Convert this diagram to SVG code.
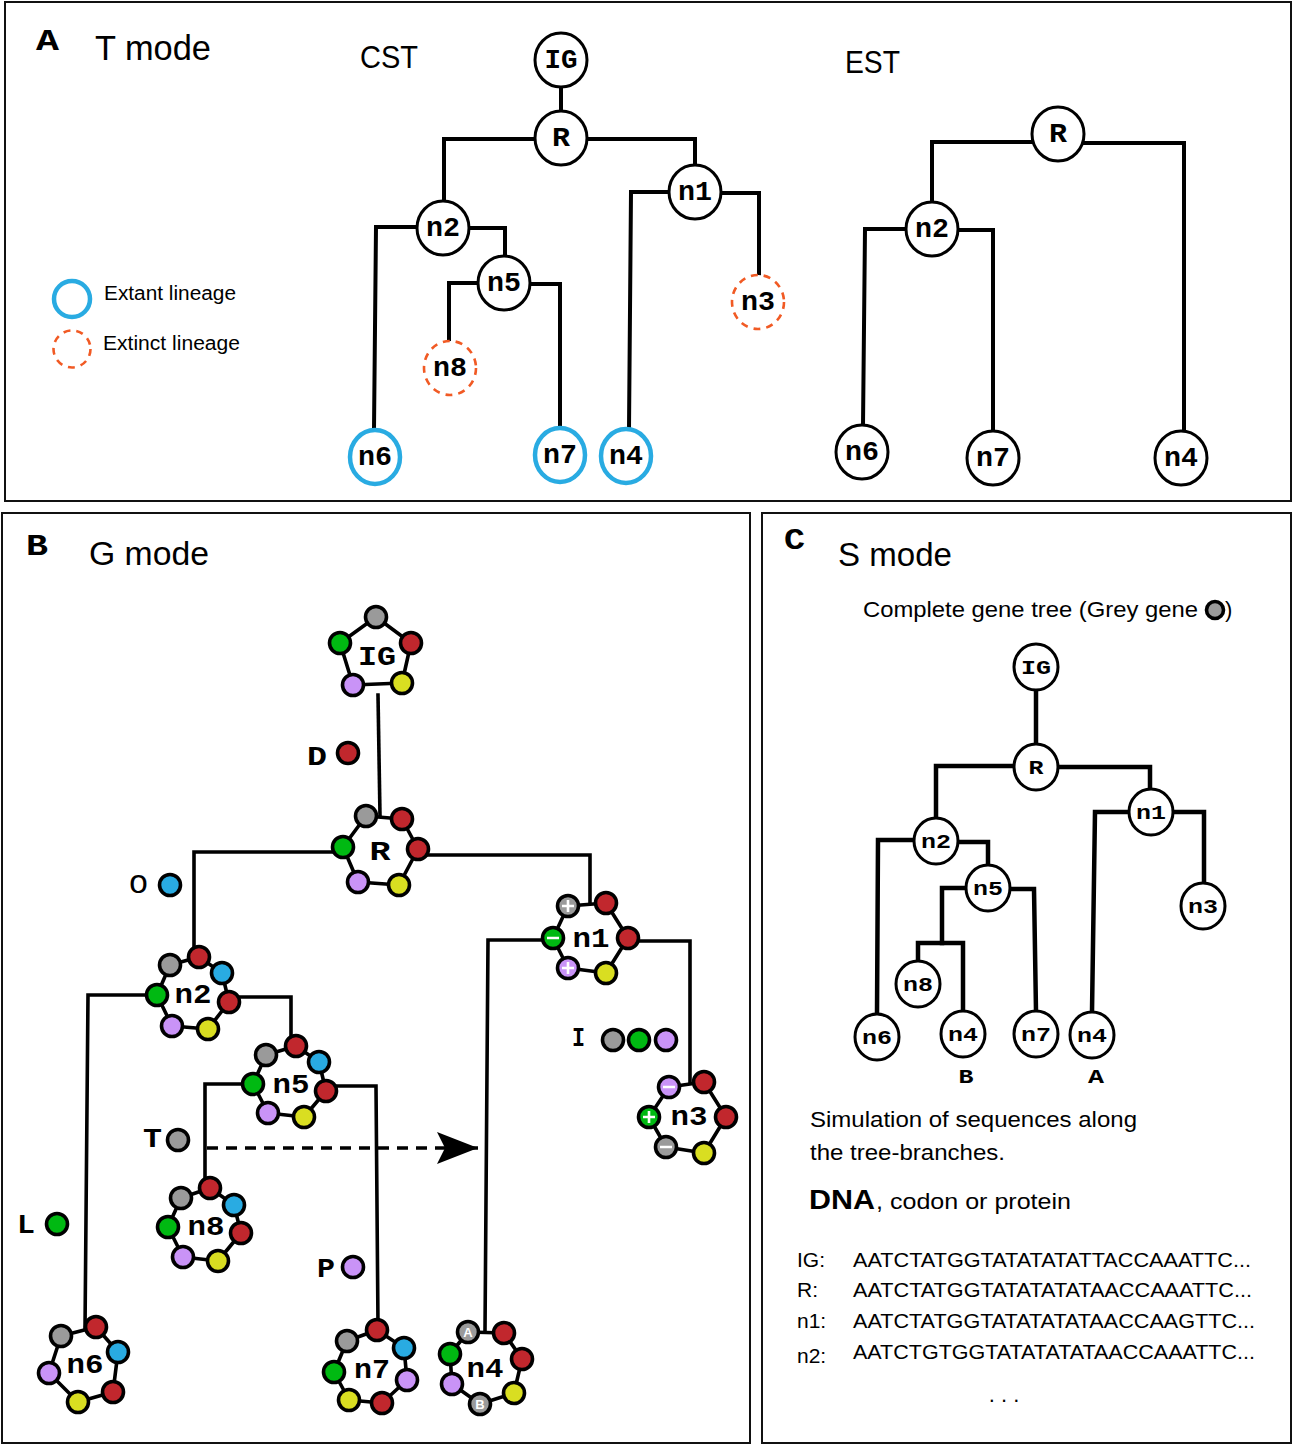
<svg xmlns="http://www.w3.org/2000/svg" width="1294" height="1446" viewBox="0 0 1294 1446">
<defs>
<style>
.frame{fill:none;stroke:#111;stroke-width:2}
.edge{fill:none;stroke:#000;stroke-width:4;stroke-linejoin:miter;stroke-linecap:square}
.edgeB{fill:none;stroke:#000;stroke-width:3.6;stroke-linejoin:miter;stroke-linecap:square}
.edgeC{fill:none;stroke:#000;stroke-width:4.5;stroke-linejoin:miter;stroke-linecap:square}
.dash{fill:none;stroke:#000;stroke-width:3.6;stroke-dasharray:11 8}
.tn{fill:#fff;stroke:#000;stroke-width:3}
.ext{fill:#fff;stroke:#29ABE2;stroke-width:4.5}
.exn{fill:#fff;stroke:#F15A24;stroke-width:2.6;stroke-dasharray:7 6}
.mono{font-family:"Liberation Mono","DejaVu Sans Mono",monospace;font-weight:bold;fill:#000}
.monoN{font-family:"Liberation Mono","DejaVu Sans Mono",monospace;fill:#000}
.sans{font-family:"Liberation Sans",Arial,sans-serif;fill:#000}
.ring{fill:#fff;stroke:#000;stroke-width:3.6;stroke-linejoin:round}
.dot{stroke:#000;stroke-width:3.6}
.g{fill:#9A9A9A}.r{fill:#C1272D}.gr{fill:#00B912}.b{fill:#29ABE2}.p{fill:#C993F7}.y{fill:#D9DE21}
.sign{fill:none;stroke:#fff;stroke-width:2.6}
.A{font-size:27px}.Bl{font-size:28px}.Cl{font-size:21px}
</style>
<marker id="stealth" markerUnits="userSpaceOnUse" markerWidth="44" markerHeight="34" refX="41" refY="16" orient="auto">
<path d="M0,0 L41,16 L0,32 L8,16 Z" fill="#000"/>
</marker>
</defs>
<rect width="1294" height="1446" fill="#fff"/>

<!-- Panel frames -->
<g id="frames">
<rect class="frame" x="5" y="2" width="1286" height="499"/>
<rect class="frame" x="2" y="513" width="748" height="930"/>
<rect class="frame" x="762" y="513" width="529" height="930"/>
</g>

<!-- ===== Panel A ===== -->
<g id="panelA-titles">
<text class="mono" x="36" y="50" font-size="30" textLength="23" lengthAdjust="spacingAndGlyphs">A</text>
<text class="sans" x="95" y="60" font-size="35" textLength="116" lengthAdjust="spacingAndGlyphs">T mode</text>
<text class="sans" x="360" y="68" font-size="31" textLength="58" lengthAdjust="spacingAndGlyphs">CST</text>
<text class="sans" x="845" y="73" font-size="31" textLength="55" lengthAdjust="spacingAndGlyphs">EST</text>
</g>
<g id="legendA">
<circle cx="72" cy="299" r="18" fill="#fff" stroke="#29ABE2" stroke-width="4.5"/>
<text class="sans" x="104" y="300" font-size="20" textLength="132" lengthAdjust="spacingAndGlyphs">Extant lineage</text>
<circle cx="72" cy="349" r="18.5" class="exn"/>
<text class="sans" x="103" y="350" font-size="20" textLength="137" lengthAdjust="spacingAndGlyphs">Extinct lineage</text>
</g>
<g id="connectorsA">
<path class="edge" d="M561 87 V112"/>
<path class="edge" d="M535 139 H444 V201"/>
<path class="edge" d="M587 139 H695 V165"/>
<path class="edge" d="M417 227 H376 L374 430"/>
<path class="edge" d="M469 228 H505 V256"/>
<path class="edge" d="M478 283 H449 V342"/>
<path class="edge" d="M530 284 H560 V428"/>
<path class="edge" d="M669 192 H631 L629 429"/>
<path class="edge" d="M721 193 H759 V275"/>
<path class="edge" d="M1032 142 H932 V202"/>
<path class="edge" d="M1084 143 H1184 V431"/>
<path class="edge" d="M906 229 H865 L863 425"/>
<path class="edge" d="M958 230 H993 V431"/>
</g>
<g id="A-IG"><ellipse class="tn" cx="561" cy="60" rx="26" ry="27"/><text class="mono A" x="561" y="68" text-anchor="middle" textLength="33" lengthAdjust="spacingAndGlyphs">IG</text></g>
<g id="A-R"><ellipse class="tn" cx="561" cy="138" rx="26" ry="27"/><text class="mono A" x="561" y="146" text-anchor="middle" textLength="18" lengthAdjust="spacingAndGlyphs">R</text></g>
<g id="A-n2"><ellipse class="tn" cx="443" cy="228" rx="26" ry="27"/><text class="mono A" x="443" y="236" text-anchor="middle" textLength="34" lengthAdjust="spacingAndGlyphs">n2</text></g>
<g id="A-n5"><ellipse class="tn" cx="504" cy="283" rx="26" ry="27"/><text class="mono A" x="504" y="291" text-anchor="middle" textLength="34" lengthAdjust="spacingAndGlyphs">n5</text></g>
<g id="A-n1"><ellipse class="tn" cx="695" cy="192" rx="26" ry="27"/><text class="mono A" x="695" y="200" text-anchor="middle" textLength="34" lengthAdjust="spacingAndGlyphs">n1</text></g>
<g id="A-n3"><ellipse class="exn" cx="758" cy="302" rx="26" ry="27"/><text class="mono A" x="758" y="310" text-anchor="middle" textLength="34" lengthAdjust="spacingAndGlyphs">n3</text></g>
<g id="A-n8"><ellipse class="exn" cx="450" cy="368" rx="26" ry="27"/><text class="mono A" x="450" y="376" text-anchor="middle" textLength="34" lengthAdjust="spacingAndGlyphs">n8</text></g>
<g id="A-n6"><ellipse class="ext" cx="375" cy="457" rx="25" ry="27"/><text class="mono A" x="375" y="465" text-anchor="middle" textLength="34" lengthAdjust="spacingAndGlyphs">n6</text></g>
<g id="A-n7"><ellipse class="ext" cx="560" cy="455" rx="25" ry="27"/><text class="mono A" x="560" y="463" text-anchor="middle" textLength="34" lengthAdjust="spacingAndGlyphs">n7</text></g>
<g id="A-n4"><ellipse class="ext" cx="626" cy="456" rx="25" ry="27"/><text class="mono A" x="626" y="464" text-anchor="middle" textLength="34" lengthAdjust="spacingAndGlyphs">n4</text></g>
<g id="EST-R"><ellipse class="tn" cx="1058" cy="134" rx="26" ry="27"/><text class="mono A" x="1058" y="142" text-anchor="middle" textLength="18" lengthAdjust="spacingAndGlyphs">R</text></g>
<g id="EST-n2"><ellipse class="tn" cx="932" cy="229" rx="26" ry="27"/><text class="mono A" x="932" y="237" text-anchor="middle" textLength="34" lengthAdjust="spacingAndGlyphs">n2</text></g>
<g id="EST-n6"><ellipse class="tn" cx="862" cy="452" rx="26" ry="27"/><text class="mono A" x="862" y="460" text-anchor="middle" textLength="34" lengthAdjust="spacingAndGlyphs">n6</text></g>
<g id="EST-n7"><ellipse class="tn" cx="993" cy="458" rx="26" ry="27"/><text class="mono A" x="993" y="466" text-anchor="middle" textLength="34" lengthAdjust="spacingAndGlyphs">n7</text></g>
<g id="EST-n4"><ellipse class="tn" cx="1181" cy="458" rx="26" ry="27"/><text class="mono A" x="1181" y="466" text-anchor="middle" textLength="34" lengthAdjust="spacingAndGlyphs">n4</text></g>

<!-- ===== Panel B ===== -->
<g id="panelB-titles">
<text class="mono" x="26" y="555" font-size="30" textLength="22" lengthAdjust="spacingAndGlyphs">B</text>
<text class="sans" x="89" y="565" font-size="33" textLength="120" lengthAdjust="spacingAndGlyphs">G mode</text>
</g>
<g id="connectorsB">
<path class="edgeB" d="M378 695 L380 816"/>
<path class="edgeB" d="M343 852 H194 V950"/>
<path class="edgeB" d="M418 855 H590 V904"/>
<path class="edgeB" d="M628 941 H690 V1084"/>
<path class="edgeB" d="M553 940 H488 L485 1332"/>
<path class="edgeB" d="M157 995 H88 L85 1330"/>
<path class="edgeB" d="M229 997 H291 V1042"/>
<path class="edgeB" d="M253 1084 H205 V1184"/>
<path class="edgeB" d="M326 1086 H376 L378 1326"/>
<path class="dash" d="M207 1148 H478" marker-end="url(#stealth)"/>
</g>
<g id="events">
<g id="ev-D"><text class="mono" x="307" y="765" font-size="28" textLength="20" lengthAdjust="spacingAndGlyphs">D</text><circle class="dot r" cx="348" cy="753" r="10.5"/></g>
<g id="ev-O"><text class="monoN" x="129" y="893" font-size="28" textLength="19" lengthAdjust="spacingAndGlyphs">O</text><circle class="dot b" cx="170" cy="885" r="10.5"/></g>
<g id="ev-I"><text class="mono" x="572" y="1046" font-size="28" textLength="13" lengthAdjust="spacingAndGlyphs">I</text><circle class="dot g" cx="613" cy="1040" r="10.5"/><circle class="dot gr" cx="639" cy="1040" r="10.5"/><circle class="dot p" cx="666" cy="1040" r="10.5"/></g>
<g id="ev-T"><text class="mono" x="143" y="1147" font-size="28" textLength="19" lengthAdjust="spacingAndGlyphs">T</text><circle class="dot g" cx="178" cy="1140" r="10.5"/></g>
<g id="ev-L"><text class="mono" x="17" y="1233" font-size="28" textLength="18" lengthAdjust="spacingAndGlyphs">L</text><circle class="dot gr" cx="57" cy="1224" r="10.5"/></g>
<g id="ev-P"><text class="mono" x="317" y="1277" font-size="28" textLength="18" lengthAdjust="spacingAndGlyphs">P</text><circle class="dot p" cx="353" cy="1267" r="10.5"/></g>
</g>

<g id="B-IG">
<polygon class="ring" points="376,617 411,643 402,683 353,685 340,643"/>
<circle class="dot g" cx="376" cy="617" r="10.5"/><circle class="dot r" cx="411" cy="643" r="10.5"/><circle class="dot y" cx="402" cy="683" r="10.5"/><circle class="dot p" cx="353" cy="685" r="10.5"/><circle class="dot gr" cx="340" cy="643" r="10.5"/>
<text class="mono Bl" x="377" y="665" text-anchor="middle" textLength="38" lengthAdjust="spacingAndGlyphs">IG</text>
</g>
<g id="B-R">
<polygon class="ring" points="366,816 402,819 418,849 399,885 358,882 343,847"/>
<circle class="dot g" cx="366" cy="816" r="10.5"/><circle class="dot r" cx="402" cy="819" r="10.5"/><circle class="dot r" cx="418" cy="849" r="10.5"/><circle class="dot y" cx="399" cy="885" r="10.5"/><circle class="dot p" cx="358" cy="882" r="10.5"/><circle class="dot gr" cx="343" cy="847" r="10.5"/>
<text class="mono Bl" x="380" y="860" text-anchor="middle" textLength="21" lengthAdjust="spacingAndGlyphs">R</text>
</g>
<g id="B-n1">
<polygon class="ring" points="568,906 606,903 628,938 606,973 568,968 553,938"/>
<circle class="dot g" cx="568" cy="906" r="10.5"/><circle class="dot r" cx="606" cy="903" r="10.5"/><circle class="dot r" cx="628" cy="938" r="10.5"/><circle class="dot y" cx="606" cy="973" r="10.5"/><circle class="dot p" cx="568" cy="968" r="10.5"/><circle class="dot gr" cx="553" cy="938" r="10.5"/>
<path class="sign" d="M562 906 H574 M568 900 V912 M562 968 H574 M568 962 V974 M547 938 H559"/>
<text class="mono Bl" x="591" y="947" text-anchor="middle" textLength="37" lengthAdjust="spacingAndGlyphs">n1</text>
</g>
<g id="B-n2">
<polygon class="ring" points="170,965 199,957 222,973 229,1002 208,1029 172,1026 157,995"/>
<circle class="dot g" cx="170" cy="965" r="10.5"/><circle class="dot r" cx="199" cy="957" r="10.5"/><circle class="dot b" cx="222" cy="973" r="10.5"/><circle class="dot r" cx="229" cy="1002" r="10.5"/><circle class="dot y" cx="208" cy="1029" r="10.5"/><circle class="dot p" cx="172" cy="1026" r="10.5"/><circle class="dot gr" cx="157" cy="995" r="10.5"/>
<text class="mono Bl" x="193" y="1003" text-anchor="middle" textLength="37" lengthAdjust="spacingAndGlyphs">n2</text>
</g>
<g id="B-n5">
<polygon class="ring" points="266,1055 296,1046 319,1062 326,1091 304,1117 268,1113 253,1084"/>
<circle class="dot g" cx="266" cy="1055" r="10.5"/><circle class="dot r" cx="296" cy="1046" r="10.5"/><circle class="dot b" cx="319" cy="1062" r="10.5"/><circle class="dot r" cx="326" cy="1091" r="10.5"/><circle class="dot y" cx="304" cy="1117" r="10.5"/><circle class="dot p" cx="268" cy="1113" r="10.5"/><circle class="dot gr" cx="253" cy="1084" r="10.5"/>
<text class="mono Bl" x="291" y="1093" text-anchor="middle" textLength="37" lengthAdjust="spacingAndGlyphs">n5</text>
</g>
<g id="B-n8">
<polygon class="ring" points="181,1198 210,1188 234,1205 241,1233 218,1261 183,1257 168,1227"/>
<circle class="dot g" cx="181" cy="1198" r="10.5"/><circle class="dot r" cx="210" cy="1188" r="10.5"/><circle class="dot b" cx="234" cy="1205" r="10.5"/><circle class="dot r" cx="241" cy="1233" r="10.5"/><circle class="dot y" cx="218" cy="1261" r="10.5"/><circle class="dot p" cx="183" cy="1257" r="10.5"/><circle class="dot gr" cx="168" cy="1227" r="10.5"/>
<text class="mono Bl" x="206" y="1235" text-anchor="middle" textLength="37" lengthAdjust="spacingAndGlyphs">n8</text>
</g>
<g id="B-n3">
<polygon class="ring" points="669,1087 704,1082 726,1117 704,1153 666,1147 649,1117"/>
<circle class="dot p" cx="669" cy="1087" r="10.5"/><circle class="dot r" cx="704" cy="1082" r="10.5"/><circle class="dot r" cx="726" cy="1117" r="10.5"/><circle class="dot y" cx="704" cy="1153" r="10.5"/><circle class="dot g" cx="666" cy="1147" r="10.5"/><circle class="dot gr" cx="649" cy="1117" r="10.5"/>
<path class="sign" d="M663 1087 H675 M660 1147 H672 M643 1117 H655 M649 1111 V1123"/>
<text class="mono Bl" x="689" y="1125" text-anchor="middle" textLength="37" lengthAdjust="spacingAndGlyphs">n3</text>
</g>
<g id="B-n4">
<polygon class="ring" points="468,1332 504,1333 522,1359 514,1393 480,1404 452,1384 450,1354"/>
<circle class="dot g" cx="468" cy="1332" r="10.5"/><circle class="dot r" cx="504" cy="1333" r="10.5"/><circle class="dot r" cx="522" cy="1359" r="10.5"/><circle class="dot y" cx="514" cy="1393" r="10.5"/><circle class="dot g" cx="480" cy="1404" r="10.5"/><circle class="dot p" cx="452" cy="1384" r="10.5"/><circle class="dot gr" cx="450" cy="1354" r="10.5"/>
<text x="468" y="1337" text-anchor="middle" font-family="Liberation Sans,Arial,sans-serif" font-weight="bold" font-size="13" fill="#fff">A</text>
<text x="480" y="1409" text-anchor="middle" font-family="Liberation Sans,Arial,sans-serif" font-weight="bold" font-size="13" fill="#fff">B</text>
<text class="mono Bl" x="485" y="1377" text-anchor="middle" textLength="37" lengthAdjust="spacingAndGlyphs">n4</text>
</g>
<g id="B-n6">
<polygon class="ring" points="61,1336 96,1327 118,1352 113,1392 78,1402 49,1373"/>
<circle class="dot g" cx="61" cy="1336" r="10.5"/><circle class="dot r" cx="96" cy="1327" r="10.5"/><circle class="dot b" cx="118" cy="1352" r="10.5"/><circle class="dot r" cx="113" cy="1392" r="10.5"/><circle class="dot y" cx="78" cy="1402" r="10.5"/><circle class="dot p" cx="49" cy="1373" r="10.5"/>
<text class="mono Bl" x="85" y="1373" text-anchor="middle" textLength="37" lengthAdjust="spacingAndGlyphs">n6</text>
</g>
<g id="B-n7">
<polygon class="ring" points="347,1341 377,1330 404,1348 407,1380 382,1403 349,1400 334,1372"/>
<circle class="dot g" cx="347" cy="1341" r="10.5"/><circle class="dot r" cx="377" cy="1330" r="10.5"/><circle class="dot b" cx="404" cy="1348" r="10.5"/><circle class="dot p" cx="407" cy="1380" r="10.5"/><circle class="dot r" cx="382" cy="1403" r="10.5"/><circle class="dot y" cx="349" cy="1400" r="10.5"/><circle class="dot gr" cx="334" cy="1372" r="10.5"/>
<text class="mono Bl" x="372" y="1378" text-anchor="middle" textLength="36" lengthAdjust="spacingAndGlyphs">n7</text>
</g>

<!-- ===== Panel C ===== -->
<g id="panelC-titles">
<text class="mono" x="784" y="549" font-size="30" textLength="21" lengthAdjust="spacingAndGlyphs">C</text>
<text class="sans" x="838" y="566" font-size="33" textLength="114" lengthAdjust="spacingAndGlyphs">S mode</text>
<text class="sans" x="863" y="617" font-size="22" textLength="335" lengthAdjust="spacingAndGlyphs">Complete gene tree (Grey gene</text>
<circle class="dot g" cx="1215" cy="610" r="8.5"/>
<text class="sans" x="1225" y="617" font-size="22">)</text>
</g>
<g id="connectorsC">
<path class="edgeC" d="M1036 690 V744"/>
<path class="edgeC" d="M1014 766 H936 V818"/>
<path class="edgeC" d="M1058 767 H1150 V790"/>
<path class="edgeC" d="M914 840 H878 L877 1014"/>
<path class="edgeC" d="M958 842 H988 V866"/>
<path class="edgeC" d="M966 888 H942 V943"/>
<path class="edgeC" d="M918 962 V943 H963 V1011"/>
<path class="edgeC" d="M1010 889 H1034 L1036 1011"/>
<path class="edgeC" d="M1129 812 H1095 L1092 1012"/>
<path class="edgeC" d="M1173 812 H1204 V884"/>
</g>
<g id="C-IG"><ellipse class="tn" cx="1036" cy="667" rx="22" ry="23"/><text class="mono Cl" x="1036" y="674" text-anchor="middle" textLength="30" lengthAdjust="spacingAndGlyphs">IG</text></g>
<g id="C-R"><ellipse class="tn" cx="1036" cy="767" rx="22" ry="23"/><text class="mono Cl" x="1036" y="774" text-anchor="middle" textLength="15" lengthAdjust="spacingAndGlyphs">R</text></g>
<g id="C-n2"><ellipse class="tn" cx="936" cy="841" rx="22" ry="23"/><text class="mono Cl" x="936" y="848" text-anchor="middle" textLength="30" lengthAdjust="spacingAndGlyphs">n2</text></g>
<g id="C-n5"><ellipse class="tn" cx="988" cy="888" rx="22" ry="23"/><text class="mono Cl" x="988" y="895" text-anchor="middle" textLength="30" lengthAdjust="spacingAndGlyphs">n5</text></g>
<g id="C-n1"><ellipse class="tn" cx="1151" cy="812" rx="22" ry="23"/><text class="mono Cl" x="1151" y="819" text-anchor="middle" textLength="30" lengthAdjust="spacingAndGlyphs">n1</text></g>
<g id="C-n3"><ellipse class="tn" cx="1203" cy="906" rx="22" ry="23"/><text class="mono Cl" x="1203" y="913" text-anchor="middle" textLength="30" lengthAdjust="spacingAndGlyphs">n3</text></g>
<g id="C-n8"><ellipse class="tn" cx="918" cy="984" rx="22" ry="23"/><text class="mono Cl" x="918" y="991" text-anchor="middle" textLength="30" lengthAdjust="spacingAndGlyphs">n8</text></g>
<g id="C-n6"><ellipse class="tn" cx="877" cy="1037" rx="22" ry="23"/><text class="mono Cl" x="877" y="1044" text-anchor="middle" textLength="30" lengthAdjust="spacingAndGlyphs">n6</text></g>
<g id="C-n4B"><ellipse class="tn" cx="963" cy="1034" rx="22" ry="23"/><text class="mono Cl" x="963" y="1041" text-anchor="middle" textLength="30" lengthAdjust="spacingAndGlyphs">n4</text><text class="mono" x="966" y="1083" font-size="20" text-anchor="middle" textLength="15" lengthAdjust="spacingAndGlyphs">B</text></g>
<g id="C-n7"><ellipse class="tn" cx="1036" cy="1034" rx="22" ry="23"/><text class="mono Cl" x="1036" y="1041" text-anchor="middle" textLength="30" lengthAdjust="spacingAndGlyphs">n7</text></g>
<g id="C-n4A"><ellipse class="tn" cx="1092" cy="1035" rx="22" ry="23"/><text class="mono Cl" x="1092" y="1042" text-anchor="middle" textLength="30" lengthAdjust="spacingAndGlyphs">n4</text><text class="mono" x="1096" y="1083" font-size="20" text-anchor="middle" textLength="16" lengthAdjust="spacingAndGlyphs">A</text></g>

<g id="C-text">
<text class="sans" x="810" y="1127" font-size="22" textLength="327" lengthAdjust="spacingAndGlyphs">Simulation of sequences along</text>
<text class="sans" x="810" y="1160" font-size="22" textLength="195" lengthAdjust="spacingAndGlyphs">the tree-branches.</text>
<text class="sans" x="809" y="1209" font-size="27" font-weight="bold" textLength="66" lengthAdjust="spacingAndGlyphs">DNA</text>
<text class="sans" x="876" y="1209" font-size="22" textLength="195" lengthAdjust="spacingAndGlyphs">, codon or protein</text>
<text class="sans" x="797" y="1267" font-size="21">IG:</text>
<text class="sans" x="853" y="1267" font-size="21" textLength="398" lengthAdjust="spacingAndGlyphs">AATCTATGGTATATATATTACCAAATTC...</text>
<text class="sans" x="797" y="1297" font-size="21">R:</text>
<text class="sans" x="853" y="1297" font-size="21" textLength="399" lengthAdjust="spacingAndGlyphs">AATCTATGGTATATATATAACCAAATTC...</text>
<text class="sans" x="797" y="1328" font-size="21">n1:</text>
<text class="sans" x="853" y="1328" font-size="21" textLength="402" lengthAdjust="spacingAndGlyphs">AATCTATGGTATATATATAACCAAGTTC...</text>
<text class="sans" x="797" y="1363" font-size="21">n2:</text>
<text class="sans" x="853" y="1359" font-size="21" textLength="402" lengthAdjust="spacingAndGlyphs">AATCTGTGGTATATATATAACCAAATTC...</text>
<text class="sans" x="1004" y="1402" font-size="22" text-anchor="middle">. . .</text>
</g>
</svg>
